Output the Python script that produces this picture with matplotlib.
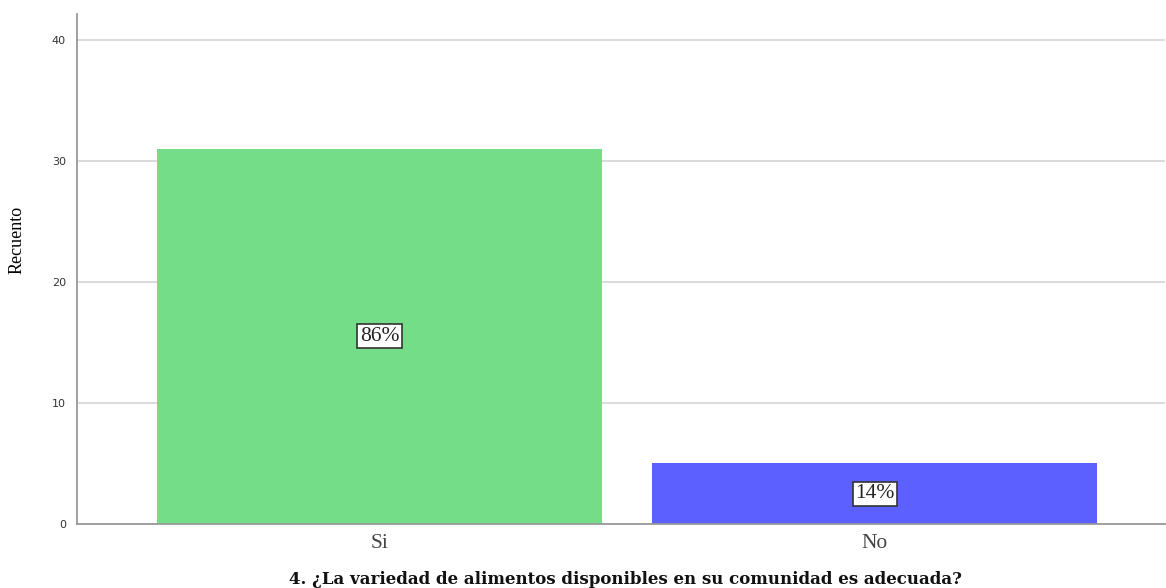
import matplotlib
matplotlib.use('Agg')
import matplotlib.pyplot as plt

# data
categories = ['Si', 'No']
counts = [31, 5]
pct_labels = ['86%', '14%']
yticks = [0, 10, 20, 30, 40]
bar_colors = ['#73DE87', '#5B60FF']
title = '4. ¿La variedad de alimentos disponibles en su comunidad es adecuada?'

fig = plt.figure(figsize=(11.66, 5.88), dpi=100)
ax = fig.add_axes([0.066, 0.109, 0.933, 0.867])

x = list(range(len(categories)))
ax.bar(x, counts, width=0.898, color=bar_colors, zorder=2)

# percentage labels in the middle of each bar
for xi, c, lab in zip(x, counts, pct_labels):
    ax.text(xi, c / 2., lab, ha='center', va='center', fontsize=15.5,
            family='Liberation Serif', color='#222222', zorder=3,
            bbox=dict(boxstyle='square,pad=0.12', facecolor='white',
                      edgecolor='#333333', linewidth=1.2))

ax.set_xlim(-0.6105, 1.585)
ax.set_ylim(0, 42.1)
ax.set_yticks(yticks)
ax.set_xticks(x)
ax.set_xticklabels(categories, family='Liberation Serif', fontsize=15.5, color='#444444')
ax.tick_params(axis='y', length=0, labelsize=8, labelcolor='#333333', pad=8)
ax.tick_params(axis='x', length=0, pad=7)
ax.yaxis.grid(True, color='#DADADA', linewidth=1.4, zorder=0)
ax.set_axisbelow(True)

for s in ['top', 'right']:
    ax.spines[s].set_visible(False)
ax.spines['left'].set_color('#999999')
ax.spines['bottom'].set_color('#999999')
ax.spines['left'].set_linewidth(1.3)
ax.spines['bottom'].set_linewidth(1.3)

ax.set_ylabel('Recuento', family='Liberation Serif', fontsize=13)
ax.yaxis.set_label_coords(-0.047, 0.557)

fig.text(625 / 1166., 0.007, title, ha='center', va='baseline',
         family='DejaVu Serif', fontsize=12, fontweight='bold', color='#111111')

fig.savefig('out.png', dpi=100, facecolor='white')
